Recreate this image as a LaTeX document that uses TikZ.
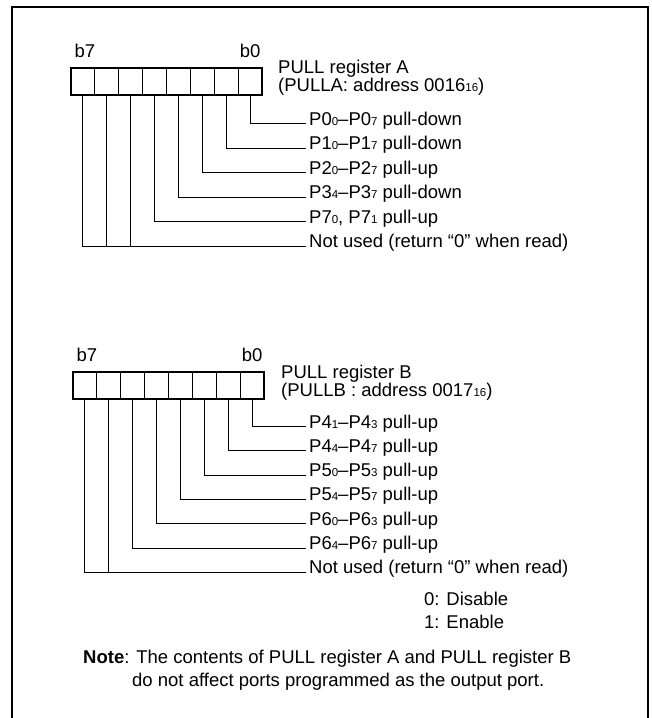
\documentclass[tikz,border=0pt]{standalone}
\usepackage{fontspec}
\setmainfont{Liberation Sans}
\usetikzlibrary{positioning}
\newcommand{\sbs}[1]{{\fontsize{11.5}{11.5}\selectfont #1}}

\begin{document}
\begin{tikzpicture}[x=1pt, y=-1pt, line cap=rect, font=\fontsize{18.5}{18.5}\selectfont]
	\tikzset{cell/.style={draw, line width=1.2pt, minimum width=23.875pt, minimum height=27pt, inner sep=0pt, outer sep=0pt},
		bitlbl/.style={anchor=base, inner sep=0pt},
		rowlbl/.style={anchor=base west, inner sep=0pt},
		wire/.style={line width=0.9pt}}
	\useasboundingbox (0,0) rectangle (652,718);
	\draw[line width=2pt] (12,718) -- (12,7) -- (648,7) -- (648,718);
	% register A
	\foreach \i in {0,...,7}
		\node[cell] (a\i) at ({250.06-23.875*\i},81.5) {};
	\draw[line width=2pt] (a7.north west) rectangle (a0.south east);
	\node[bitlbl] (ab7) at ([xshift=2pt,yshift=10.5pt]a7.north) {b7};
	\node[bitlbl] (ab0) at ([yshift=10.5pt]a0.north) {b0};
	\node[rowlbl] (ta1) at (278,73) {PULL register A};
	\node[rowlbl] (ta2) at (278,91.5) {(PULLA: address 0016\sbs{16})};
	\foreach \t [count=\k from 0] in {P0\sbs{0}–P0\sbs{7} pull-down, P1\sbs{0}–P1\sbs{7} pull-down,
		P2\sbs{0}–P2\sbs{7} pull-up, P3\sbs{4}–P3\sbs{7} pull-down, {P7\sbs{0}, P7\sbs{1} pull-up},
		Not used (return “0” when read)}
		\node[rowlbl] (la\k) at (309,{125+24.5*\k}) {\t};
	\foreach \i in {0,...,4}
		\draw[wire] (a\i.south) |- ([xshift=-3pt,yshift=1.5pt]la\i.base west);
	\foreach \i in {5,6,7}
		\draw[wire] (a\i.south) |- ([xshift=-3pt,yshift=1.5pt]la5.base west);
	% register B
	\foreach \i in {0,...,7}
		\node[cell] (b\i) at ({252.06-23.875*\i},385.3) {};
	\draw[line width=2pt] (b7.north west) rectangle (b0.south east);
	\node[bitlbl] (bb7) at ([xshift=2pt,yshift=10.5pt]b7.north) {b7};
	\node[bitlbl] (bb0) at ([yshift=10.5pt]b0.north) {b0};
	\node[rowlbl] (tb1) at (281,378) {PULL register B};
	\node[rowlbl] (tb2) at (281,396.5) {(PULLB : address 0017\sbs{16})};
	\foreach \t [count=\k from 0] in {P4\sbs{1}–P4\sbs{3} pull-up, P4\sbs{4}–P4\sbs{7} pull-up,
		P5\sbs{0}–P5\sbs{3} pull-up, P5\sbs{4}–P5\sbs{7} pull-up, P6\sbs{0}–P6\sbs{3} pull-up,
		P6\sbs{4}–P6\sbs{7} pull-up, Not used (return “0” when read)}
		\node[rowlbl] (lb\k) at (309,{428+24.3*\k}) {\t};
	\foreach \i in {0,...,5}
		\draw[wire] (b\i.south) |- ([xshift=-3pt,yshift=1.5pt]lb\i.base west);
	\foreach \i in {6,7}
		\draw[wire] (b\i.south) |- ([xshift=-3pt,yshift=1.5pt]lb6.base west);
	% legend and note
	\node[rowlbl] (dis) at (424,605) {0: Disable};
	\node[rowlbl] (ena) at (424,628) {1: Enable};
	\node[rowlbl] (note1) at (83,663) {\textbf{Note}: The contents of PULL register A and PULL register B};
	\node[rowlbl] (note2) at (132,686) {do not affect ports programmed as the output port.};
\end{tikzpicture}
\end{document}
